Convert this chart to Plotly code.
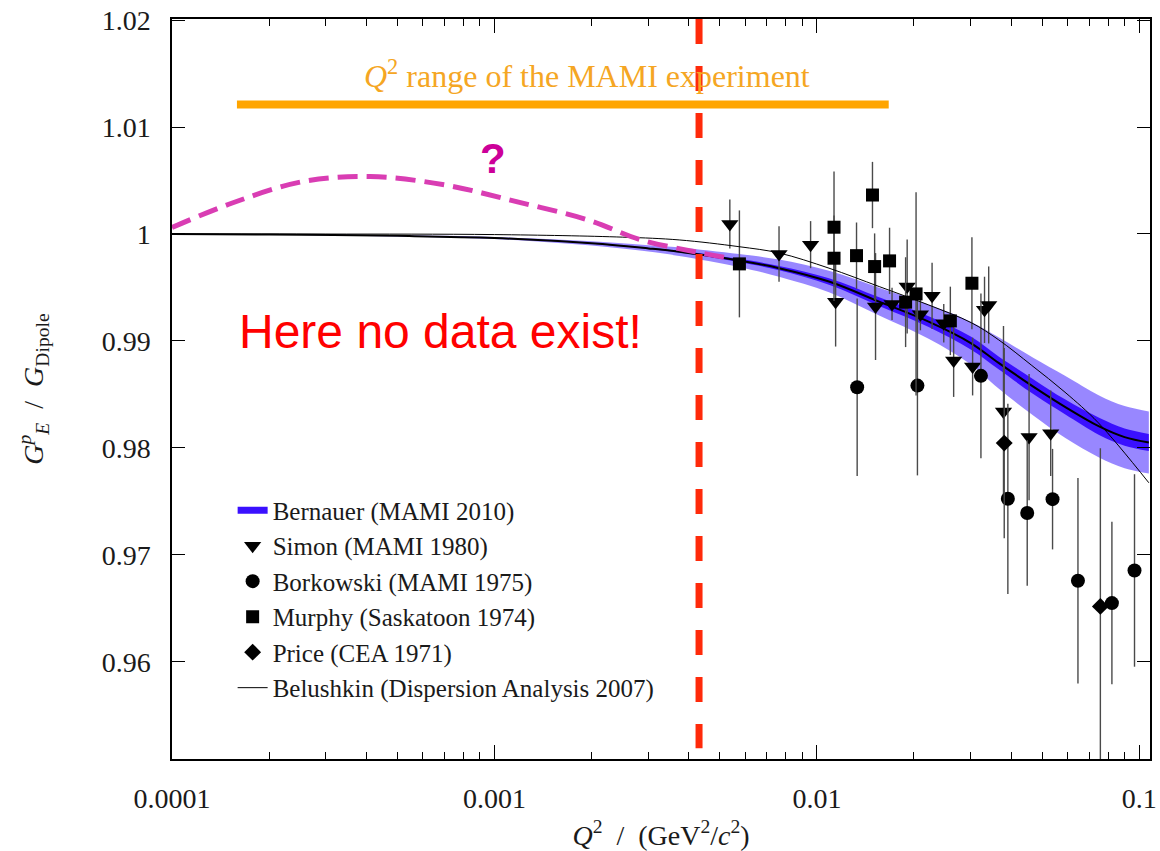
import numpy as np
import plotly.graph_objects as go

# ---------------- data ----------------
# Bernauer (MAMI 2010) fit with error bands
bern_q2 = [1e-4, 2e-4, 5e-4, 1e-3, 2e-3, 3e-3, 3.74e-3, 5.73e-3, 7.63e-3, 0.0109, 0.0156,
           0.0222, 0.03, 0.0366, 0.047, 0.0588, 0.075, 0.09, 0.107]
bern_val = [1.0, 0.99995, 0.99982, 0.99962, 0.99912, 0.99865, 0.99834, 0.99752,
            0.99680, 0.99555, 0.99367, 0.99180, 0.98980, 0.98794, 0.98570,
            0.98383, 0.98200, 0.98100, 0.98050]
bern_err_outer = [0.0, 0.00002, 0.00005, 0.0001, 0.0002, 0.0003, 0.0004, 0.0006,
                  0.0008, 0.0010, 0.0013, 0.0016, 0.0020, 0.0024, 0.0027, 0.0029,
                  0.0029, 0.0029, 0.0029]
bern_err_inner = [0.0, 0.0, 0.00001, 0.00002, 0.00004, 0.00006, 0.00008, 0.00015,
                  0.0002, 0.0003, 0.0004, 0.0005, 0.0006, 0.0006, 0.0007, 0.0007,
                  0.0008, 0.0008, 0.0008]

# Belushkin (Dispersion Analysis 2007)
belu_q2 = [1e-4, 3e-4, 1e-3, 2.5e-3, 3.74e-3, 5.73e-3, 7.63e-3, 0.0109, 0.0156, 0.0222,
           0.0302, 0.0366, 0.0464, 0.0588, 0.0746, 0.107]
belu_val = [1.0, 0.99999, 0.99994, 0.99970, 0.99944, 0.99881, 0.99822, 0.99680,
            0.99508, 0.99336, 0.99168, 0.99010, 0.98770, 0.98520, 0.98234, 0.97673]

# Simon (MAMI 1980)
simon_q2 = [0.00537, 0.00763, 0.00956, 0.01143, 0.0152, 0.0171, 0.01905, 0.02094,
            0.02276, 0.02474, 0.02655, 0.0304, 0.0331, 0.0341, 0.0379, 0.0455, 0.0531]
simon_val = [1.00093, 0.99813, 0.99900, 0.99367, 0.99321, 0.99346, 0.99508, 0.99249,
             0.99421, 0.99166, 0.98816, 0.98760, 0.99290, 0.99336, 0.98339, 0.98100,
             0.98137]
simon_err = [0.0023, 0.0026, 0.0022, 0.0042, 0.0050, 0.0015, 0.0044, 0.0015, 0.0031,
             0.0018, 0.0034, 0.0027, 0.0031, 0.0036, 0.0080, 0.0059, 0.0040]

# Borkowski (MAMI 1975)
bork_q2 = [0.01333, 0.0205, 0.03226, 0.0391, 0.0449, 0.0538, 0.0645, 0.0822, 0.0966]
bork_val = [0.98567, 0.98582, 0.98673, 0.97523, 0.97390, 0.97520, 0.96757, 0.96548,
            0.96853]
bork_err = [0.0083, 0.0084, 0.0077, 0.0089, 0.0068, 0.0047, 0.0096, 0.0076, 0.0090]

# Murphy (Saskatoon 1974)
murphy_q2 = [0.00575, 0.0113, 0.0113, 0.01327, 0.01487, 0.0151, 0.0168, 0.01884,
             0.0203, 0.02593, 0.03025]
murphy_val = [0.99720, 1.00063, 0.99773, 0.99797, 1.00364, 0.99695, 0.99748, 0.99362,
              0.99439, 0.99187, 0.99539]
murphy_err = [0.0050, 0.0052, 0.0040, 0.0031, 0.0031, 0.0031, 0.0031, 0.0042, 0.0095,
              0.0032, 0.0043]

# Price (CEA 1971)
price_q2 = [0.0381, 0.0757]
price_val = [0.98044, 0.96517]
price_err = [0.0089, 0.0148]

# speculative low-Q2 behaviour ("?")
guess_q2 = [1.0e-4, 1.53e-4, 2.54e-4, 4.12e-4, 7.03e-4, 1.17e-3, 1.95e-3, 2.85e-3,
            4.18e-3, 5.15e-3]
guess_val = [1.00060, 1.00287, 1.00489, 1.00536, 1.00458, 1.00302, 1.00131, 0.99944,
             0.99834, 0.99782]

# MAMI experiment Q2 range and the lowest measured Q2
mami_range_q2 = [1.59e-4, 1.67e-2]
mami_range_y = 1.0121
lowest_q2 = 0.00431

x_ticks = [1e-4, 1e-3, 1e-2, 1e-1]
x_ticktext = ["0.0001", "0.001", "0.01", "0.1"]
y_ticks = [0.96, 0.97, 0.98, 0.99, 1.0, 1.01, 1.02]
y_ticktext = ["0.96", "0.97", "0.98", "0.99", "1", "1.01", "1.02"]

# ---------------- figure ----------------
SERIF = "Liberation Serif, Times New Roman, serif"
SANS = "Liberation Sans, Arial, sans-serif"

bv = np.array(bern_val)
bo = np.array(bern_err_outer)
bi = np.array(bern_err_inner)

fig = go.Figure()

# outer band
fig.add_trace(go.Scatter(x=bern_q2, y=bv + bo, mode="lines", line=dict(width=0, shape="spline"),
                         showlegend=False, hoverinfo="skip"))
fig.add_trace(go.Scatter(x=bern_q2, y=bv - bo, mode="lines", line=dict(width=0, shape="spline"),
                         fill="tonexty", fillcolor="rgba(138,118,255,0.88)",
                         showlegend=False, hoverinfo="skip"))
# inner band
fig.add_trace(go.Scatter(x=bern_q2, y=bv + bi, mode="lines", line=dict(width=0, shape="spline"),
                         showlegend=False, hoverinfo="skip"))
fig.add_trace(go.Scatter(x=bern_q2, y=bv - bi, mode="lines", line=dict(width=0, shape="spline"),
                         fill="tonexty", fillcolor="#3a10ff",
                         showlegend=False, hoverinfo="skip"))
# central line
fig.add_trace(go.Scatter(x=bern_q2, y=bern_val, mode="lines",
                         line=dict(color="black", width=2, shape="spline"),
                         showlegend=False, hoverinfo="skip"))
# legend entry for Bernauer
fig.add_trace(go.Scatter(x=[None], y=[None], mode="lines", name="Bernauer (MAMI 2010)",
                         line=dict(color="#3a10ff", width=7)))

err_style = dict(type="data", color="#4a4a4a", thickness=1.4, width=0)

fig.add_trace(go.Scatter(x=simon_q2, y=simon_val, mode="markers", name="Simon (MAMI 1980)",
                         marker=dict(symbol="triangle-down", size=15, color="black"),
                         error_y=dict(array=simon_err, **err_style)))
fig.add_trace(go.Scatter(x=bork_q2, y=bork_val, mode="markers", name="Borkowski (MAMI 1975)",
                         marker=dict(symbol="circle", size=14, color="black"),
                         error_y=dict(array=bork_err, **err_style)))
fig.add_trace(go.Scatter(x=murphy_q2, y=murphy_val, mode="markers", name="Murphy (Saskatoon 1974)",
                         marker=dict(symbol="square", size=13, color="black"),
                         error_y=dict(array=murphy_err, **err_style)))
fig.add_trace(go.Scatter(x=price_q2, y=price_val, mode="markers", name="Price (CEA 1971)",
                         marker=dict(symbol="diamond", size=13, color="black"),
                         error_y=dict(array=price_err, **err_style)))
# Belushkin
fig.add_trace(go.Scatter(x=belu_q2, y=belu_val, mode="lines", name="Belushkin (Dispersion Analysis 2007)",
                         line=dict(color="black", width=1, shape="spline")))

# speculative curve
fig.add_trace(go.Scatter(x=guess_q2, y=guess_val, mode="lines",
                         line=dict(color="#d93db3", width=5, dash="20px,9px", shape="spline"),
                         showlegend=False, hoverinfo="skip"))

# MAMI range bar
fig.add_trace(go.Scatter(x=mami_range_q2, y=[mami_range_y, mami_range_y], mode="lines",
                         line=dict(color="#ffa500", width=8), showlegend=False, hoverinfo="skip"))

# lowest Q2 boundary
fig.add_trace(go.Scatter(x=[lowest_q2, lowest_q2], y=[1.0201, 0.9519], mode="lines",
                         line=dict(color="#ff2a0a", width=7, dash="25px,22px"),
                         showlegend=False, hoverinfo="skip"))

fig.add_annotation(x=-2.712, y=1.0150, xref="x", yref="y", showarrow=False,
                   text="<i>Q</i><sup>2</sup> range of the MAMI experiment",
                   font=dict(family=SERIF, size=32, color="#f5a623"))
fig.add_annotation(x=-3.006, y=1.0071, xref="x", yref="y", showarrow=False,
                   text="<b>?</b>", font=dict(family=SANS, size=42, color="#cc0099"))
fig.add_annotation(x=-3.167, y=0.9909, xref="x", yref="y", showarrow=False,
                   text="Here no data exist!", font=dict(family=SANS, size=48, color="#ff0000"))

axis_common = dict(showline=True, linecolor="black", linewidth=1.5, mirror="allticks",
                   ticks="inside", tickcolor="black", tickwidth=1.3, showgrid=False,
                   zeroline=False, automargin=False,
                   tickfont=dict(family=SERIF, size=28, color="#1a1a1a"))

fig.update_xaxes(type="log", range=[-4, -0.967], tickvals=x_ticks, ticktext=x_ticktext,
                 ticklen=14, ticklabelstandoff=14,
                 minor=dict(tickmode="array",
                            tickvals=[k * 10.0 ** e for e in (-4, -3, -2) for k in range(2, 10)],
                            ticks="inside", ticklen=7, tickcolor="black", tickwidth=1.3,
                            showgrid=False),
                 title=dict(text="<i>Q</i><sup>2</sup>  /  (GeV<sup>2</sup>/<i>c</i><sup>2</sup>)",
                            font=dict(family=SERIF, size=28, color="#1a1a1a"), standoff=12),
                 **axis_common)
fig.update_yaxes(range=[0.9509, 1.0201], tickvals=y_ticks, ticktext=y_ticktext,
                 ticklen=13, ticklabelstandoff=14,
                 title=dict(text="<i>G</i><sup><i>p</i></sup><sub><i>E</i></sub>  /  <i>G</i><sub>Dipole</sub>",
                            font=dict(family=SERIF, size=28, color="#1a1a1a"), standoff=50),
                 **axis_common)

fig.update_layout(
    width=1160, height=851,
    margin=dict(l=172, r=10, t=19, b=92),
    plot_bgcolor="white", paper_bgcolor="white",
    legend=dict(x=0.062, y=0.367, xanchor="left", yanchor="top",
                bgcolor="rgba(0,0,0,0)", borderwidth=0, traceorder="normal",
                font=dict(family=SERIF, size=25, color="#1a1a1a"),
                tracegroupgap=0),
    showlegend=True,
)

fig.write_html("out.html")
